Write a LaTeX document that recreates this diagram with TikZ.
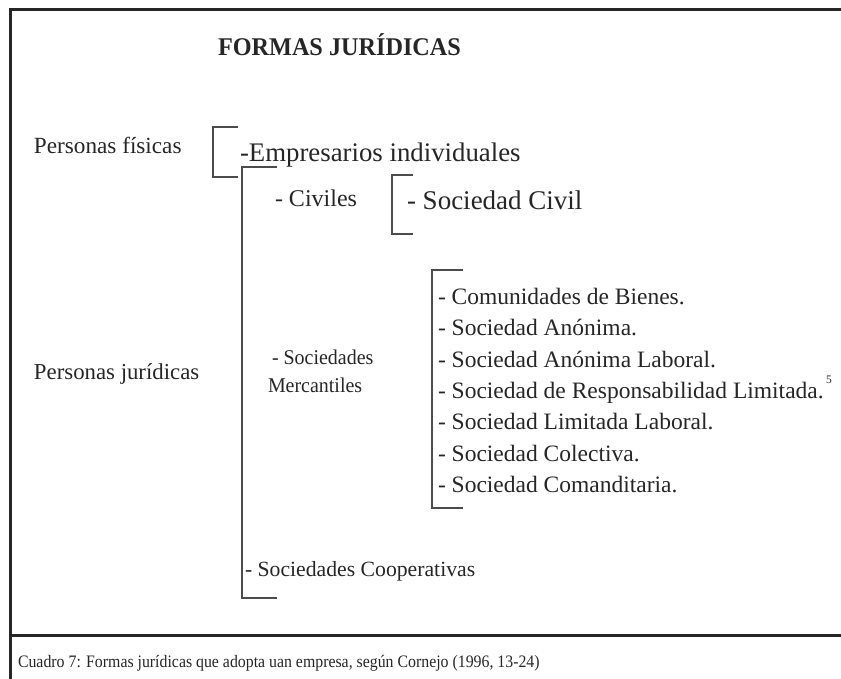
\documentclass[tikz,border=0pt]{standalone}
\usepackage{fontspec}
\setmainfont{Liberation Serif}
\tikzset{
  txt/.style={anchor=base west, inner sep=0pt, outer sep=0pt, text=black!85},
  item/.style={txt, font=\fontsize{23.5}{26}\selectfont},
  brk/.style={draw=black!70, line width=1.3pt},
  frame/.style={draw=black!85, line width=3pt}
}
\begin{document}
\begin{tikzpicture}[x=1pt,y=-1pt]
\useasboundingbox (0,0) rectangle (841,679);
% frame
\draw[frame] (10,679) -- (10,10) -- (850,10);
\draw[frame] (10,635) -- (850,635);
% title
\node[txt, font=\fontsize{25.5}{28}\selectfont\bfseries, xscale=0.95] (title) at (218,56) {FORMAS JURÍDICAS};
% Personas fisicas
\node[txt, font=\fontsize{23.2}{26}\selectfont] (pf) at (34,154) {Personas físicas};
\coordinate (b1t) at (238,127); \coordinate (b1b) at (238,177);
\draw[brk] (b1t) -- (213,127) -- (213,177) -- (b1b);
\node[txt, font=\fontsize{26.8}{30}\selectfont] (emp) at (240,162) {-Empresarios individuales};
% Personas juridicas
\node[txt, font=\fontsize{22.8}{26}\selectfont] (pj) at (34,379) {Personas jurídicas};
\coordinate (b2t) at (277,167); \coordinate (b2b) at (277,598);
\draw[brk] (b2t) -- (242,167) -- (242,598) -- (b2b);
\node[txt, font=\fontsize{24}{26}\selectfont] (civ) at (275,207) {- Civiles};
\coordinate (b3t) at (413,175); \coordinate (b3b) at (413,234);
\draw[brk] (b3t) -- (392,175) -- (392,234) -- (b3b);
\node[txt, font=\fontsize{27}{30}\selectfont] (sc) at (407,210) {- Sociedad Civil};
\node[txt, font=\fontsize{21}{24}\selectfont, xscale=0.95] (sm1) at (272,364) {- Sociedades};
\node[txt, font=\fontsize{21}{24}\selectfont, xscale=0.95] (sm2) at (268,392) {Mercantiles};
\coordinate (b4t) at (463,270); \coordinate (b4b) at (463,508);
\draw[brk] (b4t) -- (432,270) -- (432,508) -- (b4b);
\node[item] (l1) at (438,304) {- Comunidades de Bienes.};
\node[item] (l2) at (438,335) {- Sociedad Anónima.};
\node[item] (l3) at (438,367) {- Sociedad Anónima Laboral.};
\node[item] (l4) at (438,398) {- Sociedad de Responsabilidad Limitada.};
\node[txt, font=\fontsize{11.5}{12}\selectfont] (fn) at (826,383) {5};
\node[item] (l5) at (438,429) {- Sociedad Limitada Laboral.};
\node[item] (l6) at (438,461) {- Sociedad Colectiva.};
\node[item] (l7) at (438,492) {- Sociedad Comanditaria.};
\node[txt, font=\fontsize{21.7}{24}\selectfont] (coop) at (245,576) {- Sociedades Cooperativas};
% caption
\node[txt, font=\fontsize{17.5}{20}\selectfont, xscale=0.905] (cap) at (18,667) {Cuadro 7: Formas jurídicas que adopta uan empresa, según Cornejo (1996, 13-24)};
\end{tikzpicture}
\end{document}
